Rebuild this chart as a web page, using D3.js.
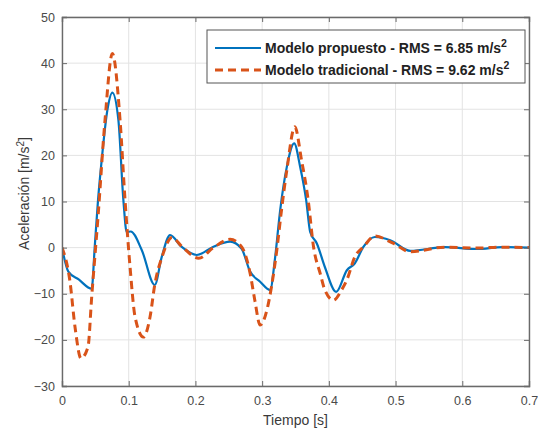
<!DOCTYPE html>
<html>
<head>
<meta charset="utf-8">
<script src="https://cdn.jsdelivr.net/npm/d3@7"></script>
<style>
  body { margin: 0; background: #fff; }
  svg { display: block; font-family: "Liberation Sans", Arial, sans-serif; }
</style>
</head>
<body>
<svg id="chart" width="538" height="432"></svg>
<script>
// data ----------------------------------
const tBlue = [0, 0.0095, 0.025, 0.0445, 0.049, 0.054, 0.0595, 0.068, 0.0755, 0.0845, 0.092, 0.097, 0.103,
  0.1195, 0.139, 0.1495, 0.162, 0.179, 0.202, 0.227, 0.252, 0.269, 0.282, 0.297, 0.312, 0.319, 0.327,
  0.337, 0.348, 0.357, 0.366, 0.372, 0.382, 0.394, 0.411, 0.427, 0.439, 0.452, 0.469, 0.492, 0.522,
  0.574, 0.622, 0.66, 0.7];
const vBlue = [0, -5.2, -6.9, -8.9, 0, 10.3, 19, 29.8, 33.6, 27.7, 10.3, 3.4, 3.5,
  -0.5, -8.1, -2, 2.7, 0.2, -1.6, 0.2, 1.3, -0.2, -5.2, -7.4, -9.2, -2.7, 8.1,
  17.5, 22.6, 17.5, 10.3, 3.4, 0.9, -4.2, -9.6, -4.9, -3.4, 0.2, 2.3, 1.6, -0.7,
  0.1, -0.3, 0.1, 0];

const tOrange = [0, 0.012, 0.0195, 0.0285, 0.039, 0.0445, 0.054, 0.0645, 0.0755, 0.087, 0.0945, 0.102,
  0.1095, 0.122, 0.132, 0.139, 0.15, 0.165, 0.18, 0.205, 0.227, 0.252, 0.27, 0.282, 0.289, 0.297,
  0.307, 0.314, 0.322, 0.329, 0.337, 0.349, 0.359, 0.369, 0.377, 0.387, 0.394, 0.407, 0.419, 0.427,
  0.439, 0.452, 0.469, 0.497, 0.522, 0.574, 0.622, 0.655, 0.7];
const vOrange = [0, -7.4, -17.2, -24, -21.5, -10.7, 6.7, 27.7, 42.1, 27.7, 10.3, -4.2,
  -15, -19.4, -15, -8.1, -2, 2.2, 0.2, -2.3, 0, 1.8, 0, -5.6, -11.4, -16.8,
  -13.6, -8.5, -0.5, 8.1, 16.8, 26.2, 19, 10.3, 0.2, -5.6, -9.2, -11.4, -9.2, -7,
  -2, 0.2, 2.5, 0.9, -0.9, 0.1, -0.1, 0.1, 0];

const xTicks = [0, 0.1, 0.2, 0.3, 0.4, 0.5, 0.6, 0.7];
const yTicks = [-30, -20, -10, 0, 10, 20, 30, 40, 50];
const seriesNames = ['Modelo propuesto - RMS = 6.85 m/s', 'Modelo tradicional - RMS = 9.62 m/s'];
// data end ----------------------------------

const margin = { top: 17, right: 9, bottom: 46, left: 62 };
const svg = d3.select('#chart');
const width = 538 - margin.left - margin.right;
const height = 432 - margin.top - margin.bottom;
const g = svg.append('g').attr('transform', 'translate(' + margin.left + ',' + margin.top + ')');

const x = d3.scaleLinear().domain([0, 0.7]).range([0, width]);
const y = d3.scaleLinear().domain([-30, 50]).range([height, 0]);

// grid
g.append('g').selectAll('line').data(xTicks).join('line')
  .attr('x1', d => x(d)).attr('x2', d => x(d)).attr('y1', 0).attr('y2', height)
  .attr('stroke', '#e3e3e3').attr('stroke-width', 1);
g.append('g').selectAll('line').data(yTicks).join('line')
  .attr('y1', d => y(d)).attr('y2', d => y(d)).attr('x1', 0).attr('x2', width)
  .attr('stroke', '#e3e3e3').attr('stroke-width', 1);

// curves
g.append('clipPath').attr('id', 'clip').append('rect').attr('width', width).attr('height', height);
const line = d3.line().x(d => x(d[0])).y(d => y(d[1])).curve(d3.curveMonotoneX);
const plot = g.append('g').attr('clip-path', 'url(#clip)');
plot.append('path').datum(d3.zip(tBlue, vBlue)).attr('d', line)
  .attr('fill', 'none').attr('stroke', '#0072BD').attr('stroke-width', 2.2);
plot.append('path').datum(d3.zip(tOrange, vOrange)).attr('d', line)
  .attr('fill', 'none').attr('stroke', '#D95319').attr('stroke-width', 3)
  .attr('stroke-dasharray', '8,5');

// axes (ticks inward, box)
const axisColor = '#6a6a6a';
const xAxis = d3.axisBottom(x).tickValues(xTicks).tickSize(-5).tickPadding(10).tickFormat(d3.format('~g'));
const yAxis = d3.axisLeft(y).tickValues(yTicks).tickSize(-5).tickPadding(7);
g.append('g').attr('transform', 'translate(0,' + height + ')').call(xAxis);
g.append('g').call(yAxis);
g.append('g').call(d3.axisTop(x).tickValues(xTicks).tickSize(-5).tickFormat(''));
g.append('g').attr('transform', 'translate(' + width + ',0)')
  .call(d3.axisRight(y).tickValues(yTicks).tickSize(-5).tickFormat(''));
g.selectAll('.domain').attr('stroke', axisColor).attr('stroke-width', 1.4);
g.selectAll('.tick line').attr('stroke', axisColor);
g.selectAll('.tick text').attr('fill', '#4a4a4a').style('font-size', '12.5px')
  .style('font-family', '"Liberation Sans", Arial, sans-serif');

// axis labels
svg.append('text').attr('x', margin.left + width / 2).attr('y', 425)
  .attr('text-anchor', 'middle').attr('fill', '#3a3a3a').style('font-size', '14px').text('Tiempo [s]');
const yl = svg.append('text').attr('transform', 'translate(29,' + (margin.top + height / 2 - 8) + ') rotate(-90)')
  .attr('text-anchor', 'middle').attr('fill', '#3a3a3a').style('font-size', '14px');
yl.append('tspan').text('Aceleración [m/s');
yl.append('tspan').attr('dy', -5).style('font-size', '10px').text('2');
yl.append('tspan').attr('dy', 5).text(']');

// legend
const lg = svg.append('g');
lg.append('rect').attr('x', 207).attr('y', 30).attr('width', 318).attr('height', 53)
  .attr('fill', '#fff').attr('stroke', '#555').attr('stroke-width', 1);
const legendStyles = [
  { color: '#0072BD', w: 2.2, dash: null },
  { color: '#D95319', w: 3, dash: '8,5' }
];
seriesNames.forEach((name, i) => {
  const cy = 48 + i * 22;
  lg.append('line').attr('x1', 215).attr('x2', 261).attr('y1', cy).attr('y2', cy)
    .attr('stroke', legendStyles[i].color).attr('stroke-width', legendStyles[i].w)
    .attr('stroke-dasharray', legendStyles[i].dash);
  const t = lg.append('text').attr('x', 265).attr('y', cy + 5)
    .attr('fill', '#222').style('font-size', '14px').style('font-weight', 'bold');
  t.append('tspan').text(name);
  t.append('tspan').attr('dy', -6).style('font-size', '10.5px').text('2');
});
</script>
</body>
</html>
